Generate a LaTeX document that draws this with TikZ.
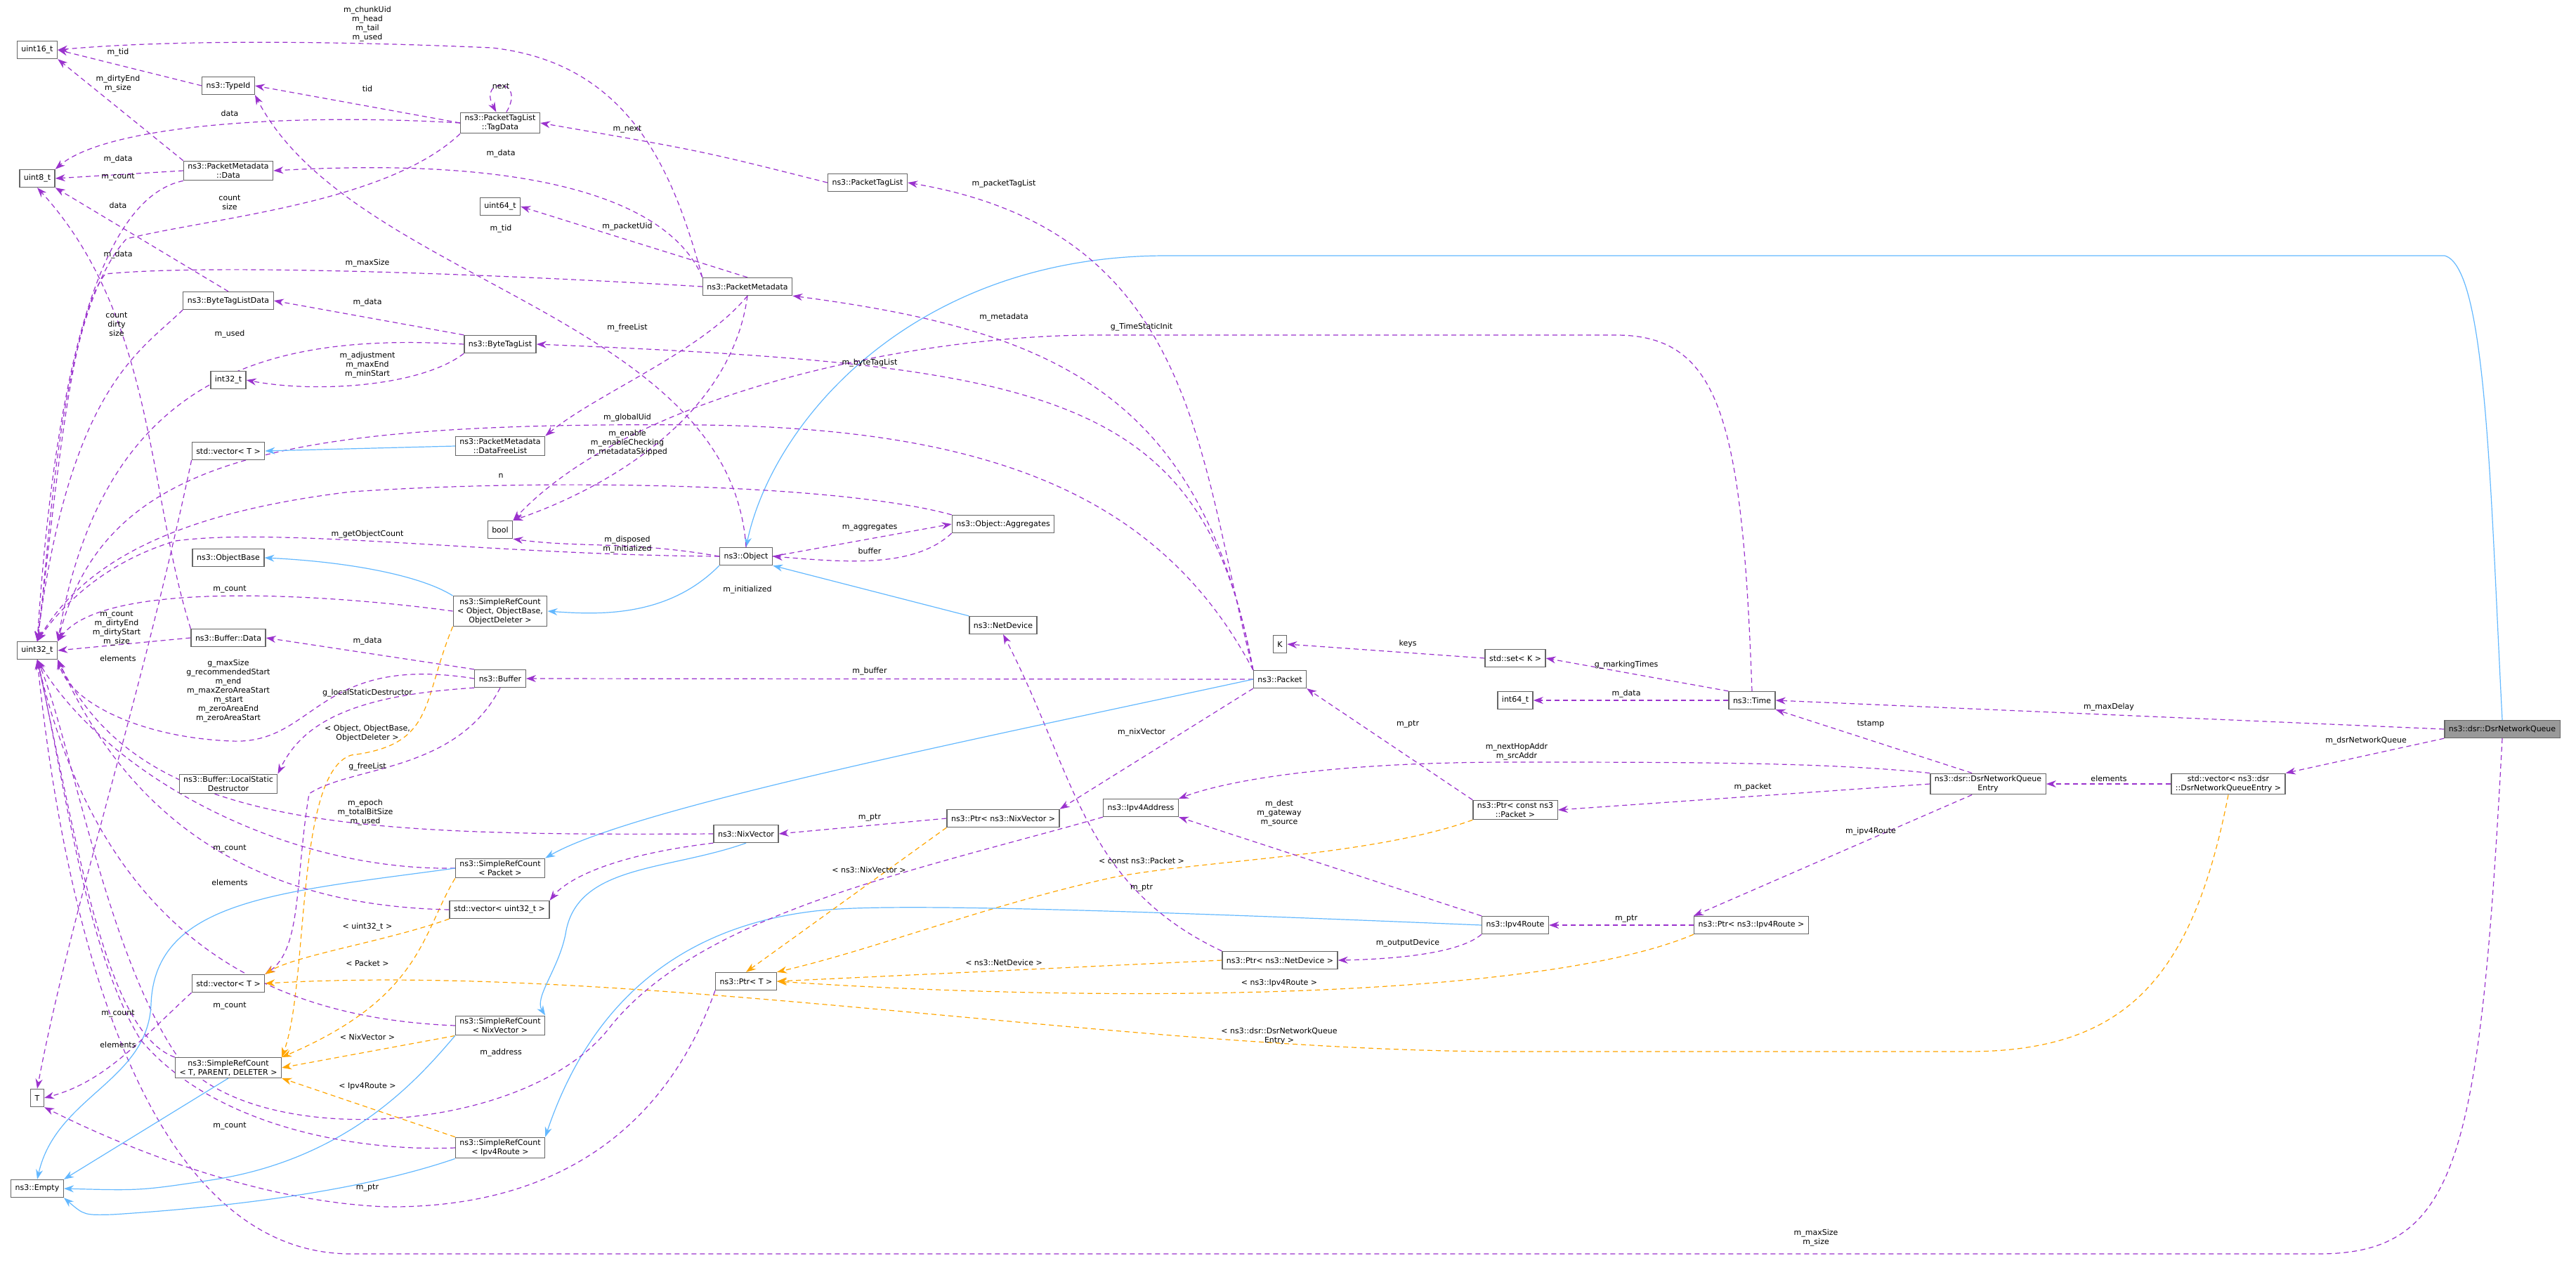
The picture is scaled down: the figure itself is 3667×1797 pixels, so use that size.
\documentclass[tikz,border=0pt]{standalone}
\usepackage{fontspec}
\setmainfont{DejaVu Sans}
\usetikzlibrary{arrows.meta}
\pgfdeclarelayer{bg}
\pgfsetlayers{bg,main}
\definecolor{purp}{HTML}{9A32CD}
\definecolor{blu}{HTML}{63B8FF}
\definecolor{orng}{HTML}{FFA500}
\definecolor{bord}{HTML}{666666}
\newcommand{\lt}{\textless}
\newcommand{\gt}{\textgreater}
\begin{document}
\begin{tikzpicture}[x=1pt,y=-1pt,
 box/.style={draw=bord,line width=1.3pt,fill=white,font=\fontsize{11}{13}\selectfont,align=center,inner xsep=6pt,inner ysep=3pt,minimum height=25pt},
 lab/.style={font=\fontsize{11}{13}\selectfont,align=center,inner sep=1pt},
 dep/.style={draw=purp,line width=1.2pt,dash pattern=on 7pt off 5pt,-{Stealth[length=14pt,width=10pt]}},
 inh/.style={draw=blu,line width=1.2pt,-{Stealth[length=14pt,width=10pt]}},
 tpl/.style={draw=orng,line width=1.2pt,dash pattern=on 7pt off 5pt,-{Stealth[length=14pt,width=10pt]}}]
\useasboundingbox (0,0) rectangle (3667,1797);
% nodes
\node[box] (u16) at (53,71) {uint16\_t};
\node[box] (typeid) at (325,122) {ns3::TypeId};
\node[box] (tagdata) at (712,175) {ns3::PacketTagList\\::TagData};
\node[box] (u8) at (53,254) {uint8\_t};
\node[box] (pmdata) at (325,243) {ns3::PacketMetadata\\::Data};
\node[box] (ptaglist) at (1235,260) {ns3::PacketTagList};
\node[box] (u64) at (712,294) {uint64\_t};
\node[box] (pmeta) at (1064,408) {ns3::PacketMetadata};
\node[box] (btld) at (325,428) {ns3::ByteTagListData};
\node[box] (btl) at (712,490) {ns3::ByteTagList};
\node[box] (i32) at (325,541) {int32\_t};
\node[box] (vecT1) at (325,642) {std::vector\lt{} T \gt};
\node[box] (dfl) at (712,635) {ns3::PacketMetadata\\::DataFreeList};
\node[box] (boolN) at (712,754) {bool};
\node[box] (obj) at (1062,792) {ns3::Object};
\node[box] (aggr) at (1428,746) {ns3::Object::Aggregates};
\node[box] (objbase) at (325,794) {ns3::ObjectBase};
\node[box] (srcobj) at (712,870) {ns3::SimpleRefCount\\\lt{} Object, ObjectBase,\\ObjectDeleter \gt};
\node[box] (u32) at (53,926) {uint32\_t};
\node[box] (bufdata) at (325,908) {ns3::Buffer::Data};
\node[box] (buffer) at (712,966) {ns3::Buffer};
\node[box] (netdev) at (1428,890) {ns3::NetDevice};
\node[box] (K) at (1822,917) {K};
\node[box] (setK) at (2157,937) {std::set\lt{} K \gt};
\node[box] (packet) at (1822,967) {ns3::Packet};
\node[box] (i64) at (2157,997) {int64\_t};
\node[box] (time) at (2494,997) {ns3::Time};
\node[box,fill=black!40] (dnq) at (3562,1038) {ns3::dsr::DsrNetworkQueue};
\node[box] (lsd) at (325,1116) {ns3::Buffer::LocalStatic\\Destructor};
\node[box] (entry) at (2830,1116) {ns3::dsr::DsrNetworkQueue\\Entry};
\node[box] (vecE) at (3172,1116) {std::vector\lt{} ns3::dsr\\::DsrNetworkQueueEntry \gt};
\node[box] (ipv4a) at (1624,1150) {ns3::Ipv4Address};
\node[box] (ptrnix) at (1428,1165) {ns3::Ptr\lt{} ns3::NixVector \gt};
\node[box] (nix) at (1062,1187) {ns3::NixVector};
\node[box] (ptrcp) at (2157,1153) {ns3::Ptr\lt{} const ns3\\::Packet \gt};
\node[box] (srcpkt) at (712,1236) {ns3::SimpleRefCount\\\lt{} Packet \gt};
\node[box] (vecu32) at (711,1295) {std::vector\lt{} uint32\_t \gt};
\node[box] (ipv4r) at (2157,1317) {ns3::Ipv4Route};
\node[box] (ptrr) at (2493,1317) {ns3::Ptr\lt{} ns3::Ipv4Route \gt};
\node[box] (ptrnd) at (1822,1367) {ns3::Ptr\lt{} ns3::NetDevice \gt};
\node[box] (vecT2) at (325,1400) {std::vector\lt{} T \gt};
\node[box] (ptrT) at (1062,1397) {ns3::Ptr\lt{} T \gt};
\node[box] (srcnix) at (712,1460) {ns3::SimpleRefCount\\\lt{} NixVector \gt};
\node[box] (srctpd) at (325,1520) {ns3::SimpleRefCount\\\lt{} T, PARENT, DELETER \gt};
\node[box] (T) at (53,1563) {T};
\node[box] (srcr) at (712,1634) {ns3::SimpleRefCount\\\lt{} Ipv4Route \gt};
\node[box] (empty) at (53,1692) {ns3::Empty};
% edges
\begin{pgfonlayer}{bg}
\draw[inh] (dnq.north) .. controls (3545,700) and (3540,380) .. (3480,364) -- (1660,364) .. controls (1300,364) and (1100,600) .. (obj.north);
\draw[dep] (dnq.west) -- (time.east);
\draw[dep] (dnq.south west) -- (vecE.north east);
\draw[dep] (dnq.south) .. controls (3530,1650) and (3500,1785) .. (3300,1785) -- (500,1785) .. controls (200,1785) and (90,1300) .. (u32.south);
\draw[dep] (vecE.west) -- (entry.east);
\draw[tpl] (vecE.south) .. controls (3120,1400) and (3020,1497) .. (2800,1497) -- (2150,1497) .. controls (1600,1497) and (900,1370) .. (vecT2.east);
\draw[dep] (entry.north west) ++(60,0) -- (time.south east);
\draw[dep] (entry.north west) .. controls (2600,1085) and (2400,1085) .. (2150,1085) .. controls (1900,1085) and (1750,1110) .. (ipv4a.north east);
\draw[dep] (entry.west) -- (ptrcp.east);
\draw[dep] (entry.south west) ++(60,0) -- (ptrr.north west);
\draw[dep] (time.north west) -- (setK.east);
\draw[dep] (time.west) -- (i64.east);
\draw[dep] (time.north) .. controls (2480,600) and (2450,477) .. (2300,477) -- (1560,477) .. controls (1300,477) and (900,560) .. (boolN.north east);
\draw[dep] (setK.west) -- (K.east);
\draw[dep] (ptrcp.north west) -- (packet.south east);
\draw[tpl] (ptrcp.south west) .. controls (1950,1220) and (1700,1225) .. (1580,1250) .. controls (1400,1290) and (1250,1350) .. (ptrT.north east);
\draw[dep] (ptrr.west) -- (ipv4r.east);
\draw[tpl] (ptrr.south west) .. controls (2200,1420) and (1600,1430) .. (ptrT.east);
\draw[dep] (ipv4r.north west) -- (ipv4a.south east);
\draw[dep] (ipv4r.south west) .. controls (2080,1355) and (2000,1365) .. (ptrnd.east);
\draw[inh] (ipv4r.west) .. controls (1700,1300) and (1300,1285) .. (1180,1295) .. controls (1000,1310) and (850,1400) .. (srcr.north east);
\draw[dep] (ptrnd.north west) .. controls (1540,1260) and (1530,1100) .. (netdev.south);
\draw[tpl] (ptrnd.west) -- (ptrT.east);
\draw[inh] (netdev.north west) -- (obj.south east);
\draw[dep] (packet.north west) .. controls (1705,650) and (1705,330) .. (ptaglist.east);
\draw[dep] (packet.north west) .. controls (1710,560) and (1500,470) .. (pmeta.south east);
\draw[dep] (packet.north west) .. controls (1712,560) and (1500,520) .. (btl.east);
\draw[dep] (packet.north west) .. controls (1650,700) and (1400,610) .. (1000,605) .. controls (400,600) and (150,650) .. (u32.north east);
\draw[dep] (packet.west) -- (buffer.east);
\draw[dep] (packet.south west) -- (ptrnix.north east);
\draw[inh] (packet.west) .. controls (1400,1050) and (900,1150) .. (srcpkt.north east);
\draw[dep] (ptrnix.west) -- (nix.east);
\draw[tpl] (ptrnix.south west) -- (ptrT.north);
\draw[dep] (ipv4a.south west) .. controls (1300,1240) and (1000,1300) .. (870,1460) .. controls (750,1620) and (350,1640) .. (250,1500) .. controls (150,1350) and (100,1050) .. (u32.south);
\draw[dep] (nix.west) .. controls (500,1190) and (200,1180) .. (u32.south east);
\draw[dep] (nix.south west) .. controls (850,1220) and (800,1260) .. (vecu32.north east);
\draw[inh] (nix.south) .. controls (950,1240) and (820,1230) .. (805,1330) .. controls (795,1380) and (760,1420) .. (srcnix.north east);
\draw[dep] (ptrT.south west) .. controls (950,1600) and (800,1720) .. (550,1718) .. controls (350,1710) and (150,1620) .. (T.south east);
\draw[dep] (obj.north) .. controls (1040,450) and (500,400) .. (typeid.south east);
\draw[dep] (obj.west) .. controls (900,770) and (820,780) .. (boolN.south east);
\draw[dep] (obj.east) -- (aggr.west);
\draw[dep] (obj.west) .. controls (700,790) and (400,750) .. (250,770) .. controls (150,800) and (90,860) .. (u32.north);
\draw[inh] (obj.south west) .. controls (950,880) and (850,875) .. (srcobj.east);
\draw[dep] (aggr.south west) .. controls (1300,810) and (1200,800) .. (obj.east);
\draw[dep] (aggr.north west) .. controls (1200,690) and (800,680) .. (500,700) .. controls (250,730) and (120,800) .. (u32.north);
\draw[dep] (pmeta.north west) .. controls (960,250) and (900,90) .. (700,68) .. controls (400,55) and (200,60) .. (u16.east);
\draw[dep] (pmeta.north west) .. controls (960,300) and (800,220) .. (pmdata.east);
\draw[dep] (pmeta.north) -- (u64.east);
\draw[dep] (pmeta.west) .. controls (700,390) and (300,375) .. (150,390) .. controls (100,450) and (80,700) .. (u32.north);
\draw[dep] (pmeta.south) .. controls (1000,500) and (850,560) .. (dfl.north east);
\draw[dep] (pmeta.south) .. controls (1040,600) and (850,700) .. (boolN.north east);
\draw[dep] (ptaglist.west) .. controls (1000,215) .. (tagdata.east);
\draw[dep] (tagdata.60) .. controls (750,110) and (680,110) .. (tagdata.110);
\draw[dep] (tagdata.west) -- (typeid.east);
\draw[dep] (tagdata.west) .. controls (400,160) and (150,180) .. (u8.north east);
\draw[dep] (tagdata.south west) .. controls (550,290) and (300,310) .. (180,340) .. controls (80,450) and (70,800) .. (u32.north);
\draw[dep] (typeid.west) -- (u16.east);
\draw[dep] (pmdata.north west) -- (u16.south east);
\draw[dep] (pmdata.west) -- (u8.east);
\draw[dep] (pmdata.south west) .. controls (150,280) and (80,500) .. (u32.north);
\draw[dep] (btld.north) -- (u8.south east);
\draw[dep] (btld.south west) .. controls (200,500) and (100,550) .. (u32.north);
\draw[dep] (btl.north west) -- (btld.east);
\draw[dep] (btl.west) .. controls (400,475) and (150,520) .. (u32.north east);
\draw[dep] (btl.south west) .. controls (600,550) and (450,560) .. (i32.east);
\draw[inh] (dfl.west) -- (vecT1.east);
\draw[dep] (vecT1.south west) .. controls (200,1000) and (100,1300) .. (T.north);
\draw[inh] (srcobj.north west) .. controls (600,820) and (500,800) .. (objbase.east);
\draw[dep] (srcobj.west) .. controls (500,850) and (150,820) .. (u32.north east);
\draw[tpl] (srcobj.south west) .. controls (600,1000) and (620,1060) .. (500,1075) .. controls (420,1100) and (440,1400) .. (srctpd.north east);
\draw[dep] (bufdata.west) -- (u32.east);
\draw[dep] (bufdata.north west) .. controls (210,700) and (220,450) .. (u8.south);
\draw[dep] (buffer.north west) -- (bufdata.east);
\draw[dep] (buffer.west) .. controls (450,930) and (450,1060) .. (330,1055) .. controls (200,1050) and (100,1000) .. (u32.south east);
\draw[dep] (buffer.south west) .. controls (500,990) and (430,1030) .. (lsd.north east);
\draw[dep] (buffer.south) .. controls (650,1100) and (500,1090) .. (440,1130) .. controls (420,1250) and (430,1350) .. (vecT2.north east);
\draw[dep] (srcpkt.west) .. controls (400,1240) and (150,1100) .. (u32.south);
\draw[inh] (srcpkt.west) .. controls (400,1270) and (220,1280) .. (215,1430) .. controls (210,1540) and (80,1560) .. (empty.north);
\draw[tpl] (srcpkt.south west) .. controls (600,1330) and (600,1420) .. (srctpd.north east);
\draw[dep] (vecu32.west) .. controls (400,1290) and (200,1200) .. (u32.south east);
\draw[tpl] (vecu32.south west) .. controls (550,1340) and (420,1360) .. (vecT2.north east);
\draw[dep] (srcnix.west) .. controls (400,1450) and (150,1350) .. (u32.south);
\draw[tpl] (srcnix.south west) -- (srctpd.east);
\draw[inh] (srcnix.south west) .. controls (600,1530) and (500,1650) .. (300,1680) .. controls (200,1695) .. (empty.east);
\draw[dep] (srctpd.north west) .. controls (150,1470) and (110,1200) .. (u32.south);
\draw[inh] (srctpd.south) -- (empty.north east);
\draw[dep] (srcr.west) .. controls (500,1640) and (300,1600) .. (200,1480) .. controls (120,1350) and (90,1100) .. (u32.south);
\draw[tpl] (srcr.north west) -- (srctpd.south east);
\draw[inh] (srcr.south west) .. controls (500,1700) and (300,1720) .. (160,1729) .. controls (120,1730) .. (empty.south east);
\draw[dep] (vecT2.south west) .. controls (200,1480) and (150,1540) .. (T.east);
\end{pgfonlayer}
% labels
\node[lab] (a1) at (523,34) {m\_chunkUid\\m\_head\\m\_tail\\m\_used};
\node[lab] (a2) at (168,75) {m\_tid};
\node[lab] (a3) at (168,119) {m\_dirtyEnd\\m\_size};
\node[lab] (a4) at (523,126) {tid};
\node[lab] (a5) at (713,123) {next};
\node[lab] (a6) at (327,161) {data};
\node[lab] (a7) at (893,184) {m\_next};
\node[lab] (a8) at (168,227) {m\_data};
\node[lab] (a9) at (713,219) {m\_data};
\node[lab] (a10) at (168,252) {m\_count};
\node[lab] (a11) at (327,288) {count\\size};
\node[lab] (a12) at (168,292) {data};
\node[lab] (a13) at (713,326) {m\_tid};
\node[lab] (a14) at (893,323) {m\_packetUid};
\node[lab] (a15) at (168,363) {m\_data};
\node[lab] (a16) at (523,375) {m\_maxSize};
\node[lab] (a17) at (523,431) {m\_data};
\node[lab] (a18) at (166,462) {count\\dirty\\size};
\node[lab] (a19) at (893,467) {m\_freeList};
\node[lab] (a20) at (327,476) {m\_used};
\node[lab] (a21) at (523,520) {m\_adjustment\\m\_maxEnd\\m\_minStart};
\node[lab] (a22) at (893,595) {m\_globalUid};
\node[lab] (b1) at (893,631) {m\_enable\\m\_enableChecking\\m\_metadataSkipped};
\node[lab] (b2) at (713,677) {n};
\node[lab] (b3) at (523,761) {m\_getObjectCount};
\node[lab] (b4) at (893,775) {m\_disposed\\m\_initialized};
\node[lab] (b5) at (327,839) {m\_count};
\node[lab] (b6) at (166,894) {m\_count\\m\_dirtyEnd\\m\_dirtyStart\\m\_size};
\node[lab] (b7) at (168,937) {elements};
\node[lab] (b8) at (523,913) {m\_data};
\node[lab] (b9) at (325,984) {g\_maxSize\\g\_recommendedStart\\m\_end\\m\_maxZeroAreaStart\\m\_start\\m\_zeroAreaEnd\\m\_zeroAreaStart};
\node[lab] (b10) at (523,987) {g\_localStaticDestructor};
\node[lab] (b11) at (523,1044) {\lt{} Object, ObjectBase,\\ObjectDeleter \gt};
\node[lab] (b12) at (523,1092) {g\_freeList};
\node[lab] (b13) at (520,1157) {m\_epoch\\m\_totalBitSize\\m\_used};
\node[lab] (c1) at (327,1208) {m\_count};
\node[lab] (c2) at (327,1256) {elements};
\node[lab] (c3) at (523,1320) {\lt{} uint32\_t \gt};
\node[lab] (c4) at (523,1371) {\lt{} Packet \gt};
\node[lab] (c5) at (327,1432) {m\_count};
\node[lab] (c6) at (168,1443) {m\_count};
\node[lab] (c7) at (523,1476) {\lt{} NixVector \gt};
\node[lab] (c8) at (168,1487) {elements};
\node[lab] (c9) at (713,1499) {m\_address};
\node[lab] (c10) at (523,1547) {\lt{} Ipv4Route \gt};
\node[lab] (c11) at (327,1603) {m\_count};
\node[lab] (c12) at (523,1691) {m\_ptr};
\node[lab] (d1) at (1429,262) {m\_packetTagList};
\node[lab] (d2) at (1429,452) {m\_metadata};
\node[lab] (d3) at (1625,466) {g\_TimeStaticInit};
\node[lab] (d4) at (1238,517) {m\_byteTagList};
\node[lab] (d5) at (1238,751) {m\_aggregates};
\node[lab] (d6) at (1238,784) {buffer};
\node[lab] (d7) at (1064,840) {m\_initialized};
\node[lab] (e1) at (2004,916) {keys};
\node[lab] (e2) at (2315,947) {g\_markingTimes};
\node[lab] (e3) at (1238,956) {m\_buffer};
\node[lab] (e4) at (2315,988) {m\_data};
\node[lab] (e5) at (2004,1031) {m\_ptr};
\node[lab] (e6) at (1625,1043) {m\_nixVector};
\node[lab] (e7) at (2159,1070) {m\_nextHopAddr\\m\_srcAddr};
\node[lab] (e8) at (1238,1164) {m\_ptr};
\node[lab] (e9) at (1821,1158) {m\_dest\\m\_gateway\\m\_source};
\node[lab] (e10) at (1625,1225) {\lt{} const ns3::Packet \gt};
\node[lab] (e11) at (1237,1238) {\lt{} ns3::NixVector \gt};
\node[lab] (e12) at (1625,1264) {m\_ptr};
\node[lab] (e13) at (2315,1308) {m\_ptr};
\node[lab] (e14) at (2004,1343) {m\_outputDevice};
\node[lab] (e15) at (1429,1370) {\lt{} ns3::NetDevice \gt};
\node[lab] (e16) at (1821,1400) {\lt{} ns3::Ipv4Route \gt};
\node[lab] (e17) at (1821,1475) {\lt{} ns3::dsr::DsrNetworkQueue\\Entry \gt};
\node[lab] (f1) at (3002,1007) {m\_maxDelay};
\node[lab] (f2) at (2663,1031) {tstamp};
\node[lab] (f3) at (3368,1055) {m\_dsrNetworkQueue};
\node[lab] (f4) at (2495,1121) {m\_packet};
\node[lab] (f5) at (3002,1108) {elements};
\node[lab] (f6) at (2663,1184) {m\_ipv4Route};
\node[lab] (f7) at (2585,1762) {m\_maxSize\\m\_size};
\end{tikzpicture}
\end{document}
